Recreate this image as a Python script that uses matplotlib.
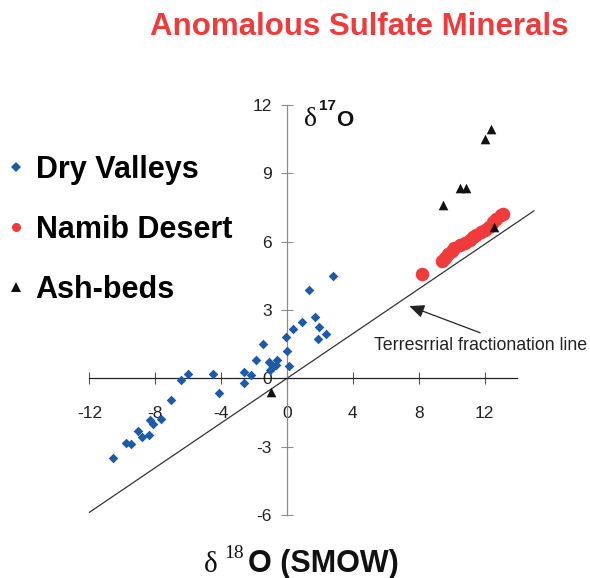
import matplotlib
matplotlib.use("Agg")
import matplotlib.pyplot as plt
from matplotlib.lines import Line2D
import numpy as np

# ---------------- data ----------------
dv_d18O = [-6.03, -6.42, -4.49, -4.13, -7.03, -8.35, -7.64, -8.15, -9.07, -8.40,
           -8.80, -9.78, -9.47, -10.55,
           2.79, 1.36, 1.71, 1.97, 2.38, 1.87, 0.89, 0.39, -0.06, 0.02,
           -1.48, -1.89, -1.08, -0.59, 0.14, -0.87, -1.04, -2.62, -2.21, -2.62, -0.67]
dv_d17O = [0.18, -0.06, 0.18, -0.63, -0.94, -1.84, -1.77, -1.99, -2.31, -2.50,
           -2.57, -2.84, -2.87, -3.48,
           4.47, 3.89, 2.69, 2.25, 1.93, 1.74, 2.47, 2.15, 1.81, 1.20,
           1.49, 0.82, 0.72, 0.82, 0.53, 0.50, 0.35, 0.28, 0.13, -0.20, 0.60]

nd_d18O = [8.2, 9.4, 9.6, 9.75, 10.0, 10.15, 10.5, 10.8, 11.1, 11.3, 11.5, 11.8,
           12.0, 12.3, 12.5, 12.7, 13.0, 13.1]
nd_d17O = [4.6, 5.15, 5.3, 5.45, 5.6, 5.7, 5.85, 5.95, 6.05, 6.2, 6.28, 6.4,
           6.5, 6.65, 6.85, 7.0, 7.15, 7.2]

ab_d18O = [12.4, 12.0, 10.5, 10.85, 9.5, 12.55, -0.95]
ab_d17O = [10.95, 10.5, 8.35, 8.35, 7.6, 6.65, -0.62]

series_names = ["Dry Valleys", "Namib Desert", "Ash-beds"]

tfl_slope = 0.49
tfl_x = [-12, 15]

x_ticks = [-12, -8, -4, 0, 4, 8, 12]
x_tick_labels = ["-12", "-8", "-4", "0", "4", "8", "12"]
y_ticks = [-6, -3, 0, 3, 6, 9, 12]
y_tick_labels = ["-6", "-3", "0", "3", "6", "9", "12"]

title = "Anomalous Sulfate Minerals"
annot_text = "Terresrrial fractionation line"

# ---------------- figure ----------------
W, H = 590, 578
fig = plt.figure(figsize=(W / 100, H / 100), dpi=100)
ax = fig.add_axes([0.1377, 0.0893, 0.7812, 0.7489])
ax.set_xlim(-12.5, 15.5)
ax.set_ylim(-6.5, 12.5)

def fx(px):
    return px / W

def fy(py):
    return 1 - py / H

blue = "#1d5aa8"
red = "#ef3b3b"
black = "#111111"

# fractionation line
tx = np.array(tfl_x, dtype=float)
ax.plot(tx, tfl_slope * tx, color="#333333", lw=0.9, zorder=2)

ax.scatter(dv_d18O, dv_d17O, marker="D", s=24, color=blue, lw=0, zorder=3)
ax.scatter(nd_d18O, nd_d17O, marker="o", s=95, color=red, lw=0, zorder=3)
ax.scatter(ab_d18O, ab_d17O, marker="^", s=48, color=black, lw=0, zorder=4)

# spines at zero
for s in ["top", "right"]:
    ax.spines[s].set_visible(False)
ax.spines["left"].set_position(("data", 0))
ax.spines["bottom"].set_position(("data", 0))
ax.spines["left"].set_bounds(-6, 12)
ax.spines["bottom"].set_bounds(-12, 14)
ax.spines["left"].set_color("#8c8c8c")
ax.spines["bottom"].set_color("#222222")
ax.spines["left"].set_linewidth(0.9)
ax.spines["bottom"].set_linewidth(0.9)
ax.patch.set_visible(False)

ax.set_xticks(x_ticks)
ax.set_xticklabels(x_tick_labels)
ax.set_yticks(y_ticks)
ax.set_yticklabels(y_tick_labels)
ax.tick_params(axis="x", direction="inout", length=8, width=0.8, color="#555555",
               pad=16, labelsize=12.5, labelcolor="#222222")
ax.tick_params(axis="y", direction="inout", length=8, width=0.8, color="#8c8c8c",
               pad=7, labelsize=12.5, labelcolor="#222222")
for lab in ax.get_xticklabels() + ax.get_yticklabels():
    lab.set_family("Liberation Sans")

# annotation
ax.annotate("", xy=(7.43, 3.17), xytext=(11.73, 2.0),
            arrowprops=dict(arrowstyle="-|>,head_length=0.9,head_width=0.4",
                            color="#222222", lw=0.9, shrinkA=0, shrinkB=0,
                            mutation_scale=10))
ax.text(5.29, 1.46, annot_text, fontsize=12.8, family="Liberation Sans",
        color="#222222", ha="left", va="center")

# title
fig.text(fx(359), fy(27), title, fontsize=22.5, fontweight="bold",
         family="Liberation Sans", color=red, ha="center", va="center")

# x label pieces
fig.text(fx(204), fy(572), "\u03b4", fontsize=21, family="Liberation Serif",
         ha="left", va="baseline", color="#111111")
fig.text(fx(224), fy(558), "18", fontsize=14, family="Liberation Serif",
         ha="left", va="baseline", color="#111111")
fig.text(fx(248), fy(572), "O (SMOW)", fontsize=22, fontweight="bold",
         family="Liberation Sans", ha="left", va="baseline", color="#111111")

# y label pieces
fig.text(fx(304), fy(126), "\u03b4", fontsize=20, family="Liberation Serif",
         ha="left", va="baseline", color="#111111")
fig.text(fx(319), fy(110), "17", fontsize=11, fontweight="bold",
         family="Liberation Sans", ha="left", va="baseline", color="#111111")
fig.text(fx(336), fy(126), "O", fontsize=16, fontweight="bold",
         family="Liberation Sans", ha="left", va="baseline", color="#111111")

# legend
handles = [
    Line2D([], [], ls="", marker="D", markersize=5, color=blue, markeredgewidth=0),
    Line2D([], [], ls="", marker="o", markersize=6.5, color=red, markeredgewidth=0),
    Line2D([], [], ls="", marker="^", markersize=6.5, color=black, markeredgewidth=0),
]
fig.legend(handles, series_names, loc="upper left",
           bbox_to_anchor=(fx(8), fy(155)), frameon=False,
           prop=dict(family="Liberation Sans", weight="bold", size=22),
           handlelength=0.5, handletextpad=0.4, labelspacing=0.98,
           borderpad=0, borderaxespad=0)

fig.savefig("out.png", dpi=100)
